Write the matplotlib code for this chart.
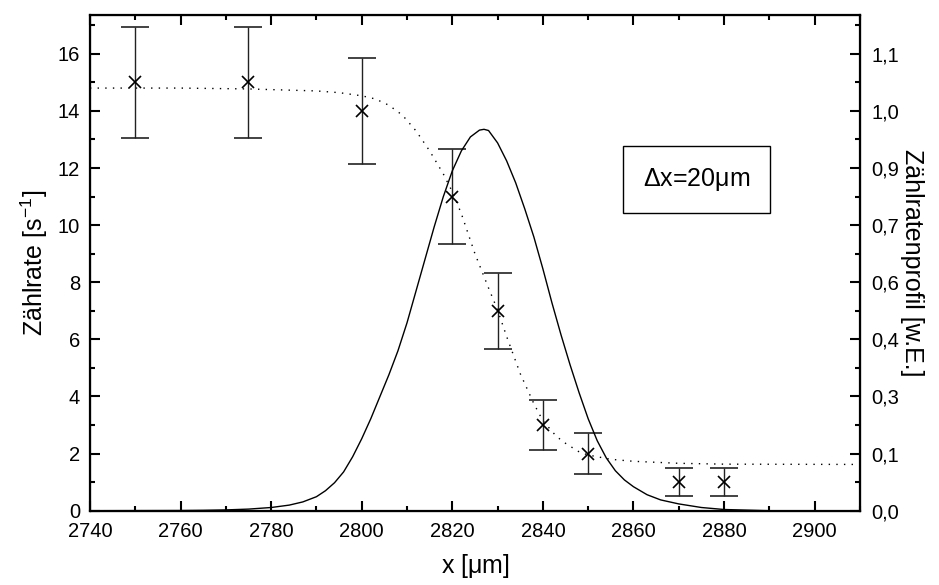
import numpy as np
import matplotlib.pyplot as plt
from matplotlib.ticker import MultipleLocator, FixedLocator

plt.rcParams['font.family'] = ['Liberation Sans', 'DejaVu Sans']
plt.rcParams['mathtext.fontset'] = 'custom'
plt.rcParams['mathtext.rm'] = 'Liberation Sans'

# measured count rates
x_pos = [2750, 2775, 2800, 2820, 2830, 2840, 2850, 2870, 2880]
rate = [15, 15, 14, 11, 7, 3, 2, 1, 1]
rate_err = [1.94, 1.94, 1.87, 1.66, 1.32, 0.87, 0.71, 0.5, 0.5]

# Boltzmann fit (dotted), left axis
fit_x = [2740, 2760, 2775, 2790, 2795, 2800, 2803, 2806, 2809, 2812, 2815, 2818,
         2820, 2822, 2825, 2828, 2830, 2832, 2835, 2838, 2840, 2843, 2845,
         2848, 2850, 2855, 2860, 2870, 2880, 2910]
fit_y = [14.8, 14.8, 14.77, 14.7, 14.64, 14.53, 14.42, 14.2, 13.85, 13.3, 12.6, 11.8,
         11.17, 10.4, 9.0, 7.8, 7.03, 6.1, 4.8, 3.75, 3.15, 2.6, 2.36,
         2.06, 1.95, 1.8, 1.73, 1.66, 1.63, 1.62]

# count rate profile (solid), right axis
prof_x = [2740, 2760, 2765, 2770, 2775, 2780, 2784, 2787, 2790, 2792, 2794,
          2796, 2798, 2800, 2802, 2804, 2806, 2808, 2810, 2812, 2814, 2816,
          2818, 2820, 2822, 2824, 2826, 2827, 2828, 2830, 2832, 2834, 2836,
          2838, 2840, 2842, 2844, 2846, 2848, 2850, 2852, 2854, 2856, 2858,
          2860, 2863, 2866, 2870, 2875, 2880, 2890, 2910]
prof_y = [0.0, 0.0005, 0.001, 0.002, 0.004, 0.008, 0.014, 0.022, 0.035, 0.050, 0.070,
          0.097, 0.135, 0.180, 0.230, 0.285, 0.340, 0.400, 0.470, 0.550, 0.630, 0.710,
          0.785, 0.850, 0.900, 0.935, 0.952, 0.954, 0.951, 0.920, 0.875, 0.820, 0.755,
          0.685, 0.605, 0.520, 0.440, 0.365, 0.295, 0.230, 0.175, 0.132, 0.100, 0.077,
          0.060, 0.040, 0.027, 0.017, 0.008, 0.003, 0.0, 0.0]

y_top = 17.36
scale = 14.0  # left units per right unit

fig = plt.figure(figsize=(9.39, 5.85), dpi=100)
ax = fig.add_axes([0.0958, 0.127, 0.82, 0.8474])

ax.plot(fit_x, fit_y, color='black', lw=1.0, linestyle=(0, (1, 4.5)))
ax.errorbar(x_pos, rate, yerr=rate_err, fmt='x', color='black', ms=9, mew=1.2,
            ecolor='#222222', elinewidth=1.0, capsize=10, capthick=1.0)

ax.set_xlim(2740, 2910)
ax.set_ylim(0, y_top)
ax.xaxis.set_major_locator(MultipleLocator(20))
ax.xaxis.set_minor_locator(MultipleLocator(10))
ax.yaxis.set_major_locator(MultipleLocator(2))
ax.yaxis.set_minor_locator(MultipleLocator(1))
ax.tick_params(which='both', direction='in', top=True, labelsize=14.5, width=1.5)
ax.tick_params(which='major', length=7)
ax.tick_params(which='minor', length=3.5)
ax.tick_params(axis='x', which='major', pad=8)
ax.tick_params(axis='y', which='major', pad=7)
for s in ax.spines.values():
    s.set_linewidth(1.6)

ax.set_xlabel('x [$\\mathrm{\\mu}$m]', fontsize=18, labelpad=8)
ax.set_ylabel('Zählrate [s$^{-1}$]', fontsize=18, labelpad=6)

ax2 = ax.twinx()
ax2.plot(prof_x, prof_y, color='black', lw=1.0)
ax2.set_ylim(0, y_top / scale)
major_r = [v / scale for v in range(0, 17, 2)]
minor_r = [v / scale for v in range(1, 18, 2)]
ax2.yaxis.set_major_locator(FixedLocator(major_r))
ax2.yaxis.set_minor_locator(FixedLocator(minor_r))
ax2.set_yticklabels([f'{v:.1f}'.replace('.', ',') for v in major_r])
ax2.tick_params(which='both', direction='in', labelsize=14.5, width=1.5)
ax2.tick_params(which='major', length=7, pad=8)
ax2.tick_params(which='minor', length=3.5)
ax2.set_ylabel('Zählratenprofil [w.E.]', fontsize=18, rotation=270, labelpad=18)

ax.text(2874, 11.6, '$\\Delta$x=20$\\mathrm{\\mu}$m', fontsize=18, ha='center', va='center',
        bbox=dict(facecolor='white', edgecolor='black', lw=1.0, boxstyle='square,pad=0.8'))

plt.savefig('out.png', dpi=100, facecolor='white')
plt.close()
